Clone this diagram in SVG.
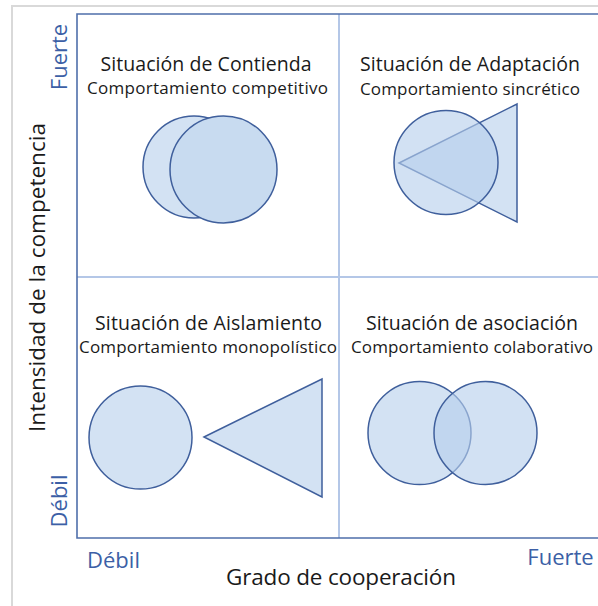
<svg xmlns="http://www.w3.org/2000/svg" width="598" height="606" viewBox="0 0 598 606">
  <style>
    text { font-family: "Open Sans", "Noto Sans", "DejaVu Sans", sans-serif; }
    .title { font-size: 19.5px; fill: #1a1a1a; text-anchor: middle; }
    .sub { font-size: 17px; fill: #1a1a1a; text-anchor: middle; }
    .axis { font-size: 22.5px; fill: #1a1a1a; text-anchor: middle; }
    .lvl { font-size: 22px; fill: #3c5fa6; text-anchor: middle; }
    .shape { fill: #d3e2f3; stroke: #3f5f9c; stroke-width: 1.5; }
    .front { fill: #c8dbf0; stroke: #3f5f9c; stroke-width: 1.5; }
    .semi { fill: #b7cfeb; fill-opacity: 0.62; stroke: #3f5f9c; stroke-width: 1.5; }
    .grid { stroke: #b4c7e7; stroke-width: 2; fill: none; }
    .axisline { stroke: #4f6fab; stroke-width: 1.6; fill: none; }
  </style>

  <!-- outer gray frame -->
  <path d="M12 606 V6 H598" fill="none" stroke="#d9d9d9" stroke-width="2"/>

  <!-- grid / axes -->
  <g id="connectors">
    <line class="grid" x1="339" y1="14" x2="339" y2="538"/>
    <line class="grid" x1="77" y1="277" x2="598" y2="277"/>
    <path class="axisline" d="M598 14 H77 V538 H598"/>
  </g>

  <!-- axis labels -->
  <g id="axis-y">
    <text class="axis" transform="translate(45,277.5) rotate(-90)" textLength="309">Intensidad de la competencia</text>
    <text class="lvl" transform="translate(67,57) rotate(-90)">Fuerte</text>
    <text class="lvl" transform="translate(67,501) rotate(-90)">Débil</text>
  </g>
  <g id="axis-x">
    <text class="axis" x="341" y="585" textLength="230">Grado de cooperación</text>
    <text class="lvl" x="113.5" y="568">Débil</text>
    <text class="lvl" x="560.5" y="565">Fuerte</text>
  </g>

  <!-- quadrant: Contienda -->
  <g id="q-contienda">
    <text class="title" x="206" y="71" textLength="211">Situación de Contienda</text>
    <text class="sub" x="207.5" y="94" textLength="241">Comportamiento competitivo</text>
    <circle class="shape" cx="194" cy="167" r="51"/>
    <circle class="front" cx="223.5" cy="169.5" r="53.5"/>
  </g>

  <!-- quadrant: Adaptación -->
  <g id="q-adaptacion">
    <text class="title" x="470" y="71" textLength="220">Situación de Adaptación</text>
    <text class="sub" x="470" y="95" textLength="220">Comportamiento sincrético</text>
    <polygon class="shape" points="399,163 517,104 517,222"/>
    <circle class="semi" cx="446" cy="162.5" r="52"/>
  </g>

  <!-- quadrant: Aislamiento -->
  <g id="q-aislamiento">
    <text class="title" x="208.5" y="330" textLength="227">Situación de Aislamiento</text>
    <text class="sub" x="208" y="353" textLength="258">Comportamiento monopolístico</text>
    <circle class="shape" cx="140.5" cy="437.5" r="51.5"/>
    <polygon class="shape" points="204,437 322,379 322,497"/>
  </g>

  <!-- quadrant: asociación -->
  <g id="q-asociacion">
    <text class="title" x="472" y="330" textLength="212">Situación de asociación</text>
    <text class="sub" x="472" y="353" textLength="242">Comportamiento colaborativo</text>
    <circle class="shape" cx="419.5" cy="433" r="51.5"/>
    <circle class="semi" cx="485.5" cy="433" r="51.5"/>
  </g>
</svg>
